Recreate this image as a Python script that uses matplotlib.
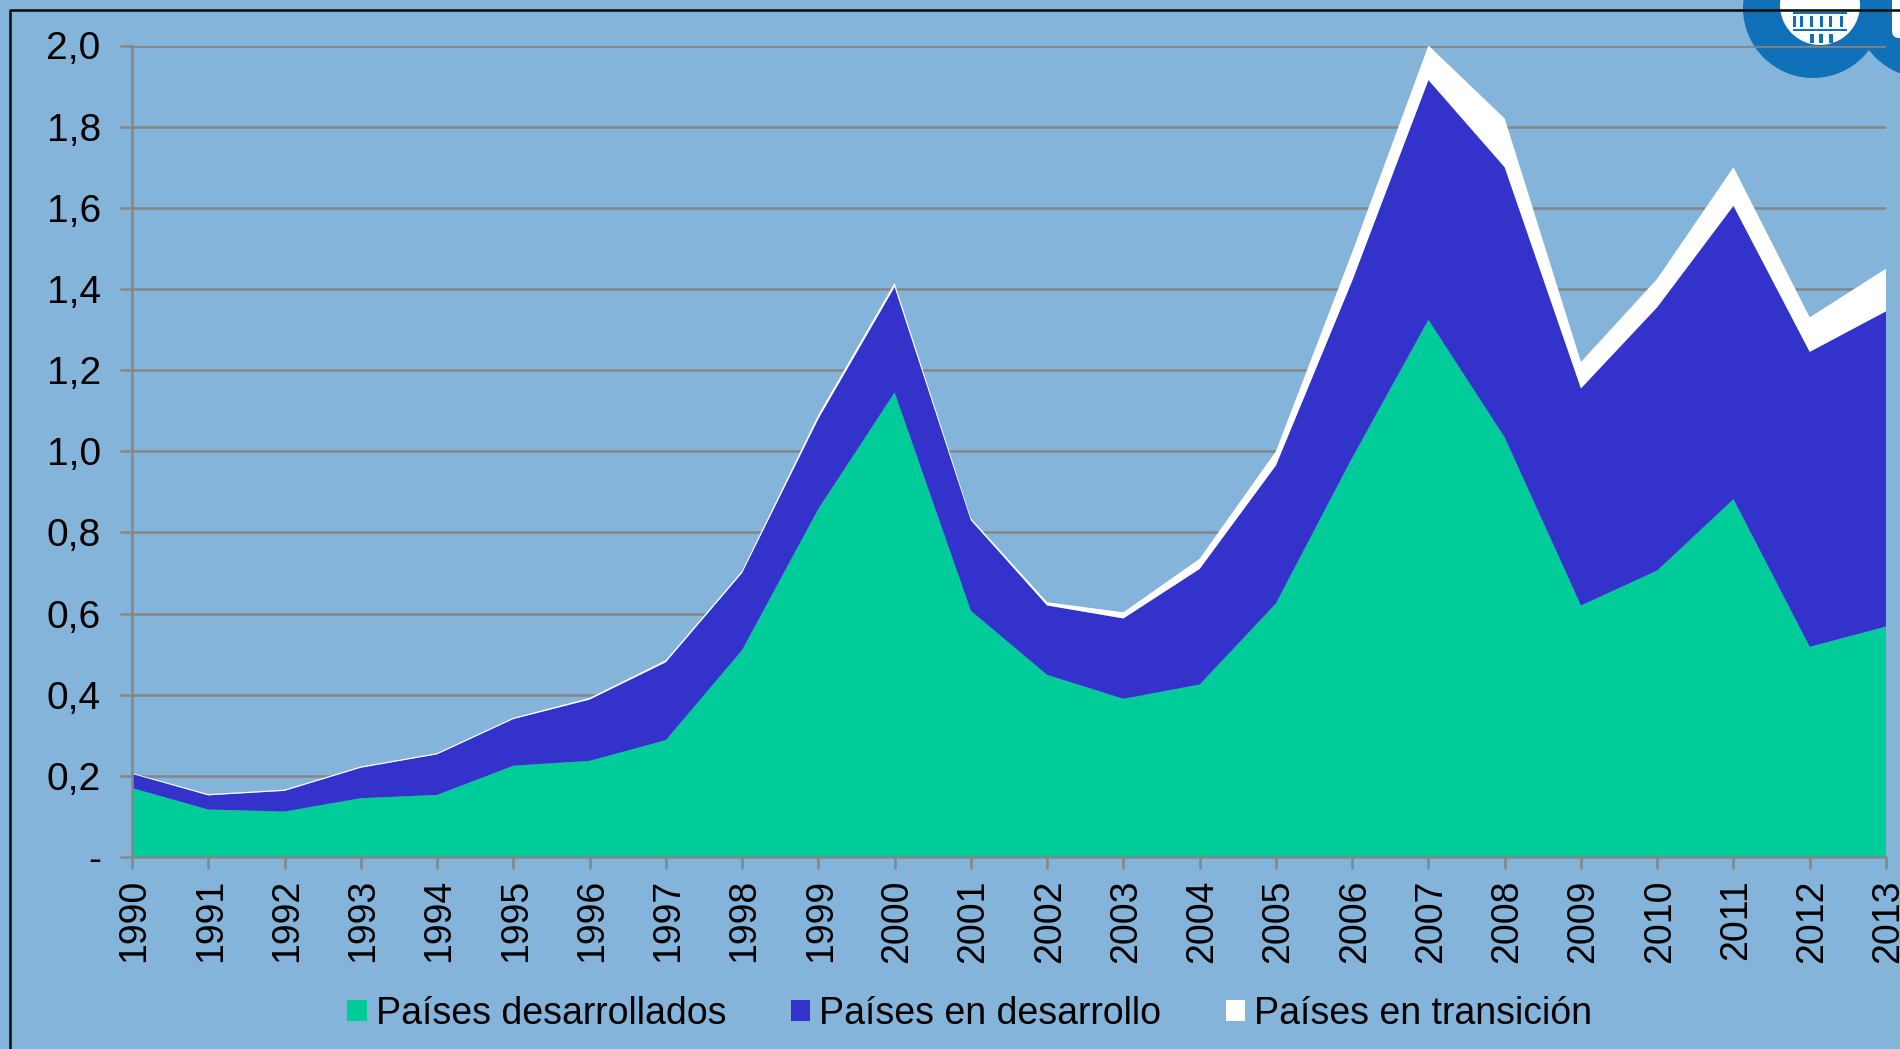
import matplotlib
matplotlib.use('Agg')
import matplotlib.pyplot as plt
from matplotlib.patches import Circle, Patch, Rectangle, FancyBboxPatch
from matplotlib.transforms import ScaledTranslation

plt.rcParams['font.family'] = ['Liberation Sans', 'DejaVu Sans']

years = list(range(1990, 2014))
desarrollados = [0.170, 0.117, 0.112, 0.145, 0.153, 0.225, 0.237, 0.288, 0.510, 0.858, 1.145, 0.607,
                 0.449, 0.390, 0.425, 0.625, 0.984, 1.324, 1.034, 0.620, 0.706, 0.882, 0.518, 0.568]
en_desarrollo = [0.035, 0.035, 0.051, 0.075, 0.100, 0.115, 0.151, 0.192, 0.190, 0.222, 0.260, 0.223,
                 0.171, 0.198, 0.285, 0.340, 0.436, 0.591, 0.666, 0.535, 0.649, 0.723, 0.727, 0.777]
en_transicion = [0.002, 0.003, 0.003, 0.003, 0.003, 0.003, 0.004, 0.005, 0.005, 0.010, 0.010, 0.005,
                 0.008, 0.015, 0.025, 0.035, 0.070, 0.085, 0.120, 0.065, 0.070, 0.095, 0.085, 0.105]
y_ticks = [0.2 * i for i in range(11)]
y_labels = ['-', '0,2', '0,4', '0,6', '0,8', '1,0', '1,2', '1,4', '1,6', '1,8', '2,0']

BG = '#85B4DA'
GRIS = '#868686'
VERDE = '#00CC99'
AZUL = '#3333CC'
LOGO = '#1070B8'
W, H = 1900, 1049

fig = plt.figure(figsize=(19, 10.49), dpi=100, facecolor=BG)

# fondo: logo y marco, en pixeles
bg = fig.add_axes([0, 0, 1, 1], zorder=0)
bg.set_xlim(0, W); bg.set_ylim(H, 0); bg.axis('off')
bg.add_patch(Circle((1813, 8), 70, color=LOGO, lw=0))
bg.add_patch(Circle((1925, 8), 70, color=LOGO, lw=0))
bg.add_patch(Circle((1820, 5), 40, color='white', lw=0))
bg.add_patch(FancyBboxPatch((1892, -30), 30, 68, boxstyle='round,pad=0,rounding_size=7',
                            color='white', lw=0))
# edificio del escudo
bg.add_patch(Rectangle((1793, 12), 54, 2, color=LOGO, lw=0))
for xc in (1793, 1800, 1810, 1820, 1829, 1840):
    bg.add_patch(Rectangle((xc, 16), 3, 11, color=LOGO, lw=0))
bg.add_patch(Rectangle((1793, 29), 54, 1.5, color=LOGO, lw=0))
for xc in (1810, 1819, 1829):
    bg.add_patch(Rectangle((xc, 34), 4, 9, color=LOGO, lw=0))

# grafico
left, right, top, bottom = 132, 1886, 45.5, 857
ax = fig.add_axes([left / W, 1 - bottom / H, (right - left) / W, (bottom - top) / H], zorder=1)
ax.patch.set_alpha(0)
ax.stackplot(years, desarrollados, en_desarrollo, en_transicion,
             colors=[VERDE, AZUL, 'white'], lw=0, zorder=3)
ax.set_xlim(1990, 2013)
ax.set_ylim(0, 2.0)
ax.set_yticks(y_ticks)
ax.set_yticklabels(y_labels)
ax.set_xticks(years)
ax.set_xticklabels(years, rotation=90)
ax.yaxis.grid(True, color=GRIS, lw=1.8, zorder=1)
ax.set_axisbelow(True)
ax.tick_params(axis='both', color=GRIS, width=1.8, length=8.5, labelcolor='black')
ax.tick_params(axis='x', pad=7.5, labelsize=27)
ax.tick_params(axis='y', pad=14, labelsize=28)
# las etiquetas de años van un poco a la derecha de la marca
shift = ScaledTranslation(2.5 / 100, 0, fig.dpi_scale_trans)
for lab in ax.get_xticklabels():
    lab.set_transform(lab.get_transform() + shift)
for s in ('top', 'right'):
    ax.spines[s].set_visible(False)
for s in ('left', 'bottom'):
    ax.spines[s].set_color(GRIS)
    ax.spines[s].set_linewidth(1.8)
    ax.spines[s].set_zorder(4)

handles = [Patch(color=VERDE, lw=0), Patch(color=AZUL, lw=0), Patch(color='white', lw=0)]
fig.legend(handles, ['Países desarrollados', 'Países en desarrollo', 'Países en transición'],
           ncol=3, frameon=False, fontsize=27, loc='center left',
           bbox_to_anchor=(347 / W, 1 - 1014 / H), borderpad=0, borderaxespad=0,
           handlelength=0.53, handleheight=0.5, handletextpad=0.23, columnspacing=1.72)

# marco negro por encima del logo
top_ax = fig.add_axes([0, 0, 1, 1], zorder=2)
top_ax.set_xlim(0, W); top_ax.set_ylim(H, 0); top_ax.axis('off')
top_ax.plot([10, 10, W], [H, 10, 10], color='#111111', lw=1.9)

fig.savefig('out.png', dpi=100, facecolor=BG)
